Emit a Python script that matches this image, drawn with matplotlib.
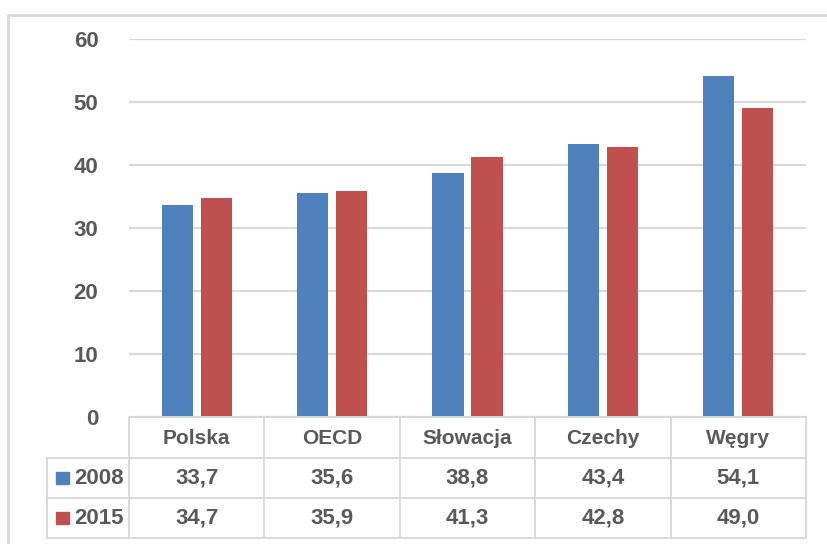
import numpy as np
import matplotlib; matplotlib.use("Agg")
import matplotlib.pyplot as plt
from matplotlib.transforms import blended_transform_factory as blend
from matplotlib.lines import Line2D
from matplotlib.patches import Rectangle

countries = ['Polska', 'OECD', 'Słowacja', 'Czechy', 'Węgry']
years = ['2008', '2015']
v2008 = [33.7, 35.6, 38.8, 43.4, 54.1]
v2015 = [34.7, 35.9, 41.3, 42.8, 49.0]
labels2008 = ['33,7', '35,6', '38,8', '43,4', '54,1']
labels2015 = ['34,7', '35,9', '41,3', '42,8', '49,0']
colors = ['#4F81BD', '#C0504D']

plt.rcParams['font.family'] = ['Liberation Sans', 'DejaVu Sans']
txt = '#595959'
grid = '#D9D9D9'
W, H = 827, 544
fig = plt.figure(figsize=(W/100, H/100), dpi=100)
px = lambda x: x / W
py = lambda y: 1 - y / H
ax = fig.add_axes([px(129), py(417), px(806) - px(129), py(39) - py(417)])

x = np.arange(len(countries))
bw, off = 0.229, 0.144
ax.bar(x - off, v2008, bw, color=colors[0], zorder=3)
ax.bar(x + off, v2015, bw, color=colors[1], zorder=3)
ax.set_xlim(-0.5, len(countries) - 0.5)
ax.set_ylim(0, 60)
ax.set_yticks(range(0, 61, 10))
ax.yaxis.grid(True, color=grid, lw=1.6)
ax.set_axisbelow(True)
ax.tick_params(axis='y', length=0, pad=22, labelsize=16, labelcolor=txt)
for lab in ax.get_yticklabels():
    lab.set_fontweight('bold')
ax.set_xticks([])
for s in ax.spines.values():
    s.set_visible(False)

# data table below the axis
tr = blend(ax.transData, fig.transFigure)
ftr = fig.transFigure
lk = dict(color=grid, lw=1.4, transform=ftr)
rows_y = [417, 458, 498, 538]
fig.add_artist(Line2D([px(129), px(806)], [py(417)] * 2, **lk))
for yy in rows_y[1:]:
    fig.add_artist(Line2D([px(47), px(806)], [py(yy)] * 2, **lk))
fig.add_artist(Line2D([px(47)] * 2, [py(458), py(538)], **lk))
for b in np.arange(-0.5, len(countries), 1.0):
    fig.add_artist(Line2D([b, b], [py(417), py(538)], color=grid, lw=1.4, transform=tr))

tk = dict(ha='center', va='center', fontweight='bold', color=txt)
for i, c in enumerate(countries):
    fig.text(i, py(439), c, transform=tr, fontsize=15, **tk)
    fig.text(i, py(478), labels2008[i], transform=tr, fontsize=16, **tk)
    fig.text(i, py(518), labels2015[i], transform=tr, fontsize=16, **tk)
for yr, col, yy in zip(years, colors, [478, 518]):
    fig.add_artist(Rectangle((px(56), py(yy + 6)), px(13), py(yy - 6) - py(yy + 6),
                             color=col, transform=ftr))
    fig.text(px(74), py(yy), yr, ha='left', va='center', fontsize=16,
             fontweight='bold', color=txt)

# outer chart border
fig.add_artist(Line2D([px(8), px(8), px(827)], [py(544), py(15), py(15)],
                      color=grid, lw=2, transform=ftr))

fig.savefig('out.png', dpi=100)
